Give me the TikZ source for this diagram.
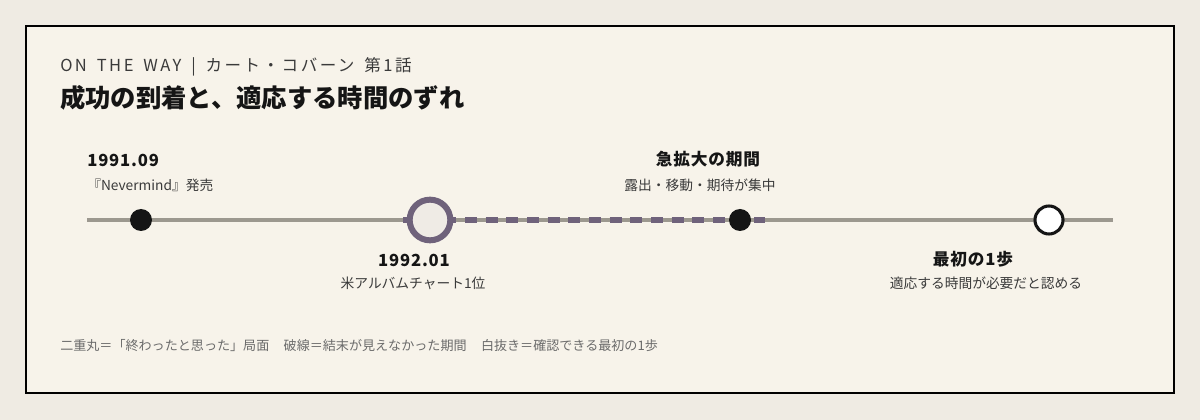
\documentclass[tikz,border=0pt]{standalone}
\usepackage{fontspec}
\setmainfont{Noto Sans CJK JP}
\newfontfamily\spacedfont{Noto Sans CJK JP}[LetterSpace=15, WordSpace=1.6]
\newfontfamily\datefont{Noto Sans CJK JP}[LetterSpace=5]
\usetikzlibrary{positioning}

\definecolor{outerbg}{HTML}{EFEBE3}
\definecolor{paper}{HTML}{F7F3EA}
\definecolor{ink}{HTML}{151515}
\definecolor{subink}{HTML}{3A3A3A}
\definecolor{noteink}{HTML}{6B6B6B}
\definecolor{railgray}{HTML}{9C988F}
\definecolor{plum}{HTML}{6F627B}
\definecolor{ringfill}{HTML}{EFEBE5}

\begin{document}
\begin{tikzpicture}[x=0.75pt,y=-0.75pt,
    dotmark/.style={circle, fill=ink, minimum size=16.5pt, inner sep=0pt},
    ringmark/.style={circle, draw=plum, fill=ringfill, line width=4.5pt, minimum size=30.5pt, inner sep=0pt},
    openmark/.style={circle, draw=ink, fill=white, line width=2.3pt, minimum size=21pt, inner sep=0pt},
    datelabel/.style={font=\datefont\fontsize{12.5pt}{14pt}\selectfont\bfseries, text=ink, inner sep=0pt},
    notelabel/.style={font=\fontsize{10.3pt}{12pt}\selectfont, text=subink, inner sep=0pt}]
  \fill[outerbg] (0,0) rectangle (1200,420); % page
  \draw[fill=paper, line width=1.5pt] (26,26) rectangle (1174,393); % card

  % heading
  \node[anchor=base west, inner sep=0pt, text=subink, font=\spacedfont\fontsize{12.4pt}{14pt}\selectfont] (kicker) at (60,72) {ON THE WAY | カート・コバーン 第1話};
  \node[anchor=base west, inner sep=0pt, text=ink, font=\fontsize{19pt}{21pt}\selectfont\bfseries] (title) at (60,108) {成功の到着と、適応する時間のずれ};

  % rail
  \coordinate (railstart) at (87,220);
  \coordinate (railend) at (1113,220);
  \coordinate (rushstart) at (403,220);
  \coordinate (rushend) at (765,220);
  \draw[railgray, line width=2.3pt] (railstart) -- (railend);
  \draw[plum, line width=3.8pt, dash pattern=on 9pt off 6.5pt] (rushstart) -- (rushend);

  % events
  \node[dotmark] (release) at (141,220) {};
  \node[ringmark] (chart) at (430,220) {};
  \node[dotmark] (rush) at (740,220) {};
  \node[openmark] (firststep) at (1049,220) {};

  \node[datelabel, anchor=base west] (releasedate) at (87,167) {1991.09};
  \node[notelabel, anchor=base west] (releasenote) at (87,191) {『Nevermind』発売};
  \node[datelabel, anchor=base] (chartdate) at (414,267) {1992.01};
  \node[notelabel, anchor=base] (chartnote) at (413,289) {米アルバムチャート1位};
  \node[datelabel, anchor=base] (rushtitle) at (708,166) {急拡大の期間};
  \node[notelabel, anchor=base] (rushnote) at (700,191) {露出・移動・期待が集中};
  \node[datelabel, anchor=base] (steptitle) at (973,266) {最初の1歩};
  \node[notelabel, anchor=base] (stepnote) at (986,289) {適応する時間が必要だと認める};

  % legend
  \node[anchor=base west, inner sep=0pt, text=noteink, font=\fontsize{9.8pt}{11pt}\selectfont] (legend) at (60,351) {二重丸＝「終わったと思った」局面\hspace{1.1em}破線＝結末が見えなかった期間\hspace{1.1em}白抜き＝確認できる最初の1歩};
\end{tikzpicture}
\end{document}
